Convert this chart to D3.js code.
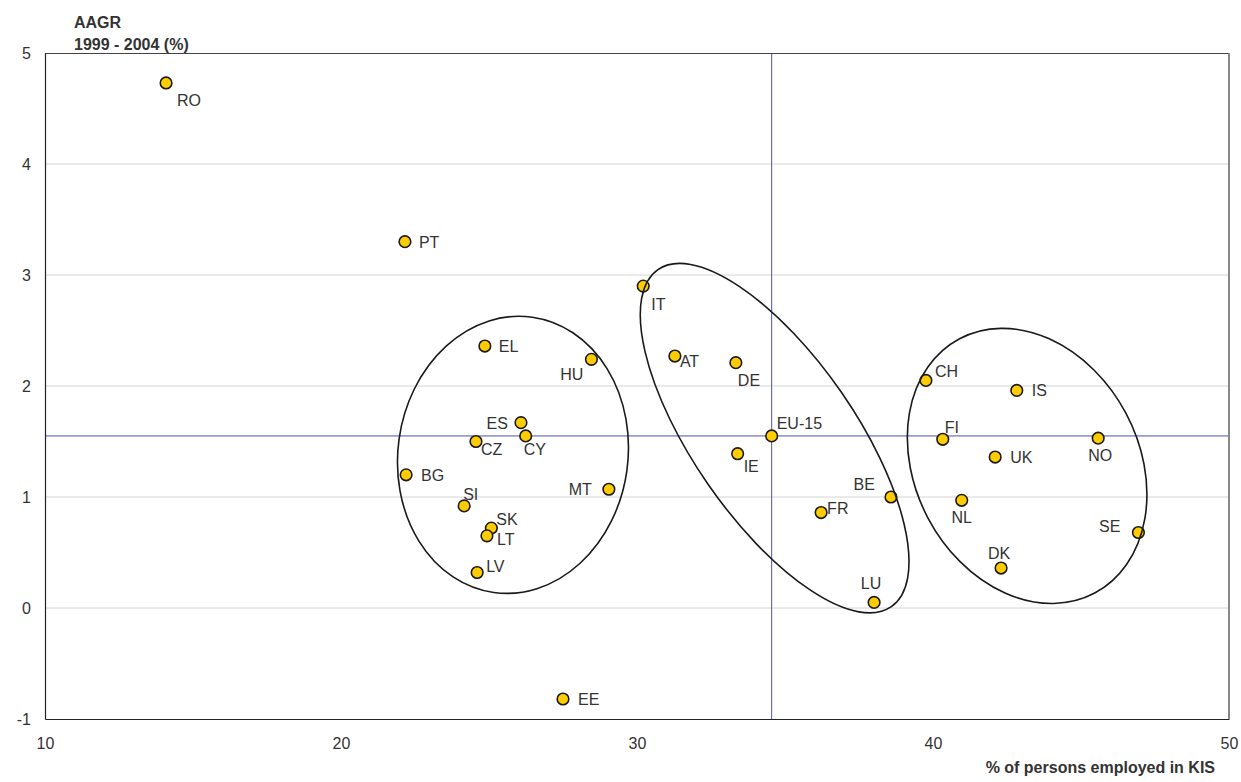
<!DOCTYPE html>
<html>
<head>
<meta charset="utf-8">
<script src="https://cdn.jsdelivr.net/npm/d3@7"></script>
<style>
  html, body { margin: 0; padding: 0; background: #fff; }
  svg { display: block; font-family: Arial, "Liberation Sans", sans-serif; }
</style>
</head>
<body>
<svg id="chart" width="1241" height="782"></svg>
<script>
// ---- Data ----
const countries = ["RO","PT","IT","EL","HU","AT","DE","CH","IS","ES","CY","CZ","EU-15","FI","NO","IE","UK","BG","MT","BE","NL","SI","FR","SK","LT","SE","LV","DK","LU","EE"];
const kisShare  = [14.09,22.16,30.21,24.86,28.46,31.28,33.34,39.76,42.83,26.08,26.24,24.56,34.55,40.33,45.58,33.40,42.10,22.20,29.05,38.58,40.97,24.16,36.22,25.08,24.93,46.94,24.60,42.30,38.01,27.50];
const aagr      = [4.73,3.30,2.90,2.36,2.24,2.27,2.21,2.05,1.96,1.67,1.55,1.50,1.55,1.52,1.53,1.39,1.36,1.20,1.07,1.00,0.97,0.92,0.86,0.72,0.65,0.68,0.32,0.36,0.05,-0.82];
const xTicks = [10,20,30,40,50];
const yTicks = [-1,0,1,2,3,4,5];
const refX = 34.55;  // EU-15 KIS share
const refY = 1.55;   // EU-15 AAGR
const xTitle = "% of persons employed in KIS";
const yTitle1 = "AAGR";
const yTitle2 = "1999 - 2004 (%)";

// group ellipses: centre (data units)
const groupCx = [25.81, 34.65, 43.18];
const groupCy = [1.38, 1.53, 1.28];

// ---- Layout / style ----
const ellipseShape = [
  {rx: 115, ry: 139, rot: 8},
  {rx: 81,  ry: 205, rot: -34.7},
  {rx: 112, ry: 144, rot: -28}
];
const labelPlace = {
  "RO":["start",11,23], "PT":["start",14,6], "IT":["start",8,24], "EL":["start",14,6],
  "HU":["end",-8,21], "AT":["start",5,11], "DE":["start",2,23], "CH":["start",9,-3],
  "IS":["start",15,6], "ES":["end",-13,6], "CY":["start",-2,19], "CZ":["start",5,13],
  "EU-15":["start",5,-7], "FI":["start",2,-6], "NO":["middle",2,23], "IE":["start",6,18],
  "UK":["start",15,6], "BG":["start",15,6], "MT":["end",-17,6], "BE":["end",-16,-7],
  "NL":["middle",0,23], "SI":["start",-1,-6], "FR":["start",6,1], "SK":["start",5,-3],
  "LT":["start",10,9], "SE":["end",-18,-1], "LV":["start",9,0], "DK":["middle",-2,-9],
  "LU":["middle",-3,-13], "EE":["start",15,6]
};

const L = 45, R = 1229, T = 53, B = 719;
const x = d3.scaleLinear().domain([10,50]).range([L,R]);
const y = d3.scaleLinear().domain([-1,5]).range([B,T]);
const fmt = d => String(d);  // plain hyphen-minus

const svg = d3.select("#chart");

// gridlines
svg.append("g").selectAll("line").data(yTicks.filter(v => v > -1 && v < 5)).join("line")
  .attr("x1", L).attr("x2", R).attr("y1", d => y(d)).attr("y2", d => y(d))
  .attr("stroke", "#d4d4d4").attr("stroke-width", 1);

// reference lines
svg.append("line").attr("x1", x(refX)).attr("x2", x(refX)).attr("y1", T).attr("y2", B)
  .attr("stroke", "#5050b4").attr("stroke-width", 1);
svg.append("line").attr("x1", L).attr("x2", R).attr("y1", y(refY)).attr("y2", y(refY))
  .attr("stroke", "#5050b4").attr("stroke-width", 1);

// frame
svg.append("line").attr("x1", L).attr("x2", R).attr("y1", T + 0.5).attr("y2", T + 0.5).attr("stroke", "#444").attr("stroke-width", 1);
svg.append("line").attr("x1", R).attr("x2", R).attr("y1", T).attr("y2", B).attr("stroke", "#888").attr("stroke-width", 2);

// axes (no tick marks)
const xAxis = d3.axisBottom(x).tickValues(xTicks).tickSize(0).tickPadding(19).tickFormat(fmt);
const yAxis = d3.axisLeft(y).tickValues(yTicks).tickSize(0).tickPadding(14).tickFormat(fmt);
const gx = svg.append("g").attr("transform", `translate(0,${B})`).call(xAxis);
const gy = svg.append("g").attr("transform", `translate(${L},0)`).call(yAxis);
[gx, gy].forEach(g => {
  g.select(".domain").attr("stroke", "#222").attr("stroke-width", 1.2);
  g.selectAll("text").attr("font-size", 16).attr("fill", "#333").attr("font-family", "Arial, 'Liberation Sans', sans-serif");
});

// points
svg.append("g").selectAll("circle").data(countries).join("circle")
  .attr("cx", (d,i) => x(kisShare[i])).attr("cy", (d,i) => y(aagr[i]))
  .attr("r", 5.8).attr("fill", "#FFCC00").attr("stroke", "#1a1a1a").attr("stroke-width", 1.6);

// ellipses (on top of points)
svg.append("g").selectAll("ellipse").data(ellipseShape).join("ellipse")
  .attr("cx", 0).attr("cy", 0)
  .attr("rx", d => d.rx).attr("ry", d => d.ry)
  .attr("transform", (d,i) => `translate(${x(groupCx[i])},${y(groupCy[i])}) rotate(${d.rot})`)
  .attr("fill", "none").attr("stroke", "#1a1a1a").attr("stroke-width", 1.6);

// labels
svg.append("g").selectAll("text").data(countries).join("text")
  .attr("x", (d,i) => x(kisShare[i]) + labelPlace[d][1])
  .attr("y", (d,i) => y(aagr[i]) + labelPlace[d][2])
  .attr("text-anchor", d => labelPlace[d][0])
  .attr("font-size", 16).attr("fill", "#333")
  .text(d => d);

// titles
svg.append("text").attr("x", 74).attr("y", 28).attr("font-size", 16).attr("font-weight", "bold").attr("fill", "#333").text(yTitle1);
svg.append("text").attr("x", 74).attr("y", 50).attr("font-size", 16).attr("font-weight", "bold").attr("fill", "#333").text(yTitle2);
svg.append("text").attr("x", 1215).attr("y", 773).attr("text-anchor", "end").attr("font-size", 16).attr("font-weight", "bold").attr("fill", "#333").text(xTitle);
</script>
</body>
</html>
